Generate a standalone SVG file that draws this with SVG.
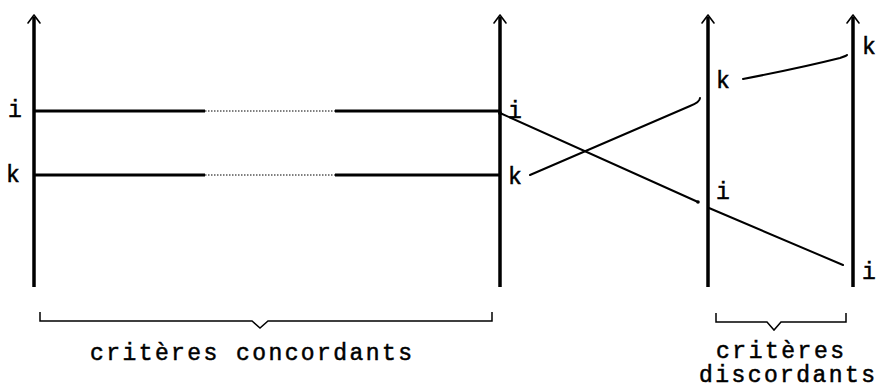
<svg xmlns="http://www.w3.org/2000/svg" width="879" height="392" viewBox="0 0 879 392">
<style>
.axis{stroke:#000;stroke-width:3.5;fill:none}
.arr{stroke:#000;stroke-width:1.6;fill:none;stroke-linecap:round;stroke-linejoin:round}
.h{stroke:#000;stroke-width:3;fill:none}
.dot{stroke:#000;stroke-width:1;stroke-dasharray:1.5 1.5;fill:none}
.c{stroke:#000;stroke-width:2;fill:none;stroke-linecap:round}
.br{stroke:#000;stroke-width:1.5;fill:none}
text{font-family:"Liberation Mono","DejaVu Sans Mono",monospace;font-size:23px;fill:#000;stroke:#000;stroke-width:0.5}
</style>
<rect width="879" height="392" fill="#fff"/>
<g id="axis1">
<line class="axis" x1="34" y1="17" x2="34" y2="287"/>
<path class="arr" d="M28,23 L34,15 L40,23"/>
<text x="8" y="117">i</text>
<text x="6" y="182">k</text>
</g>
<g id="axis2">
<line class="axis" x1="500" y1="17" x2="500" y2="287"/>
<path class="arr" d="M494,23 L500,15 L506,23"/>
<text x="508" y="118">i</text>
<text x="508" y="184">k</text>
</g>
<g id="axis3">
<line class="axis" x1="708" y1="17" x2="708" y2="287"/>
<path class="arr" d="M702,23 L708,15 L714,23"/>
<text x="716" y="88">k</text>
<text x="716" y="199">i</text>
</g>
<g id="axis4">
<line class="axis" x1="853" y1="17" x2="853" y2="287"/>
<path class="arr" d="M847,23 L853,15 L859,23"/>
<text x="862" y="54">k</text>
<text x="862" y="279">i</text>
</g>
<g id="connectors">
<line class="h" x1="35" y1="111" x2="205" y2="111"/>
<line class="dot" x1="205" y1="111" x2="335" y2="111"/>
<line class="h" x1="335" y1="111" x2="500" y2="111"/>
<line class="h" x1="35" y1="175" x2="205" y2="175"/>
<line class="dot" x1="205" y1="175" x2="335" y2="175"/>
<line class="h" x1="335" y1="175" x2="500" y2="175"/>
<path class="c" d="M500,113 L698,202"/>
<circle cx="500" cy="113" r="2"/>
<circle cx="698" cy="202" r="1.8"/>
<path class="c" d="M530,175 L690,106 Q700,102 700,98"/>
<path class="c" d="M709,208 L843,265"/>
<path class="c" d="M743,79 Q800,68 840,58 Q846,56 847,55"/>
</g>
<g id="brace-concordants">
<path class="br" d="M40,312 L40,321 L252,321 L260,328 L268,321 L492,321 L492,312"/>
<text x="90" y="360" textLength="322" lengthAdjust="spacing">critères concordants</text>
</g>
<g id="brace-discordants">
<path class="br" d="M716,313 L716,322 L767,322 L774,330 L781,322 L846,322 L846,313"/>
<text x="716" y="358" textLength="128" lengthAdjust="spacing">critères</text>
<text x="699" y="382" textLength="176" lengthAdjust="spacing">discordants</text>
</g>
</svg>
